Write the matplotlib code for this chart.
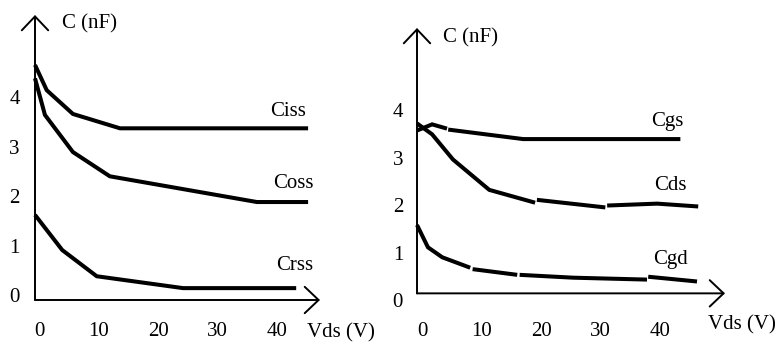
import matplotlib
matplotlib.use("Agg")
import matplotlib.pyplot as plt

plt.rcParams['font.family'] = ['Liberation Serif', 'DejaVu Serif']

# Left panel: input / output / reverse-transfer capacitance vs drain-source voltage
ciss_v = [[-0.67, 1.3, 5.7, 13.6, 45.2]]
ciss_c = [[4.65, 4.14, 3.66, 3.37, 3.37]]
coss_v = [[-0.67, 1.0, 5.7, 11.9, 36.6, 45.2]]
coss_c = [[4.38, 3.64, 2.89, 2.40, 1.88, 1.88]]
crss_v = [[-0.67, 3.9, 9.7, 24.2, 43.2]]
crss_c = [[1.62, 0.91, 0.38, 0.14, 0.14]]

# Right panel: inter-terminal capacitances vs drain-source voltage
# (each curve is drawn as a few hand-joined strokes)
cgs_v = [[-0.84, 1.7, 4.2], [4.4, 17.0, 43.4]]
cgs_c = [[3.57, 3.70, 3.61], [3.59, 3.39, 3.39]]
cds_v = [[-0.84, 1.7, 5.2, 11.3, 19.0], [19.3, 30.8], [31.1, 39.5, 46.4]]
cds_c = [[3.72, 3.49, 2.96, 2.32, 2.05], [2.11, 1.95], [1.99, 2.03, 1.97]]
cgd_v = [[-0.84, 1.0, 3.4, 8.1], [8.5, 16.0], [16.4, 25.4, 37.8], [38.0, 46.2]]
cgd_c = [[1.58, 1.11, 0.90, 0.68], [0.65, 0.53], [0.53, 0.47, 0.43], [0.49, 0.39]]

x_ticks = [0, 10, 20, 30, 40]
x_tick_labels = ['0', '10', '20', '30', '40']
y_ticks = [0, 1, 2, 3, 4]
y_tick_labels = ['0', '1', '2', '3', '4']

left_series = [(ciss_v, ciss_c, 'Ciss', 41.8, 3.70),
               (coss_v, coss_c, 'Coss', 42.7, 2.26),
               (crss_v, crss_c, 'Crss', 43.0, 0.59)]
right_series = [(cgs_v, cgs_c, 'Cgs', 41.2, 3.76),
                (cds_v, cds_c, 'Cds', 41.8, 2.42),
                (cgd_v, cgd_c, 'Cgd', 41.7, 0.86)]

W, H = 777, 345
fig = plt.figure(figsize=(W / 100, H / 100), dpi=100)

FS = 15


def panel(px_box, xlim, ylim, series, ylab_pos, xlab_pos, xlab_ha, ypad, xpad):
    l, r, b, t = px_box
    ax = fig.add_axes([l / W, 1 - b / H, (r - l) / W, (b - t) / H])
    ax.set_xlim(*xlim)
    ax.set_ylim(*ylim)
    for s in ax.spines.values():
        s.set_visible(False)
    ax.set_facecolor('none')
    # axes drawn as open-headed arrows
    arrow = dict(arrowstyle='->,head_length=10,head_width=9.5', mutation_scale=1,
                 lw=1.4, color='black', shrinkA=0, shrinkB=0)
    ax.annotate('', xy=(xlim[1], ylim[0]), xytext=(xlim[0], ylim[0]),
                arrowprops=arrow, annotation_clip=False)
    ax.annotate('', xy=(xlim[0], ylim[1]), xytext=(xlim[0], ylim[0]),
                arrowprops=arrow, annotation_clip=False)
    for v_pieces, c_pieces, name, tx, ty in series:
        for v, c in zip(v_pieces, c_pieces):
            ax.plot(v, c, color='black', lw=2.9, solid_capstyle='butt',
                    solid_joinstyle='miter', clip_on=False)
        ax.text(tx, ty, name, fontsize=FS, ha='center', va='center')
    ax.set_xticks(x_ticks, x_tick_labels, fontsize=FS)
    ax.set_yticks(y_ticks, y_tick_labels, fontsize=FS)
    ax.tick_params(axis='x', length=0, pad=xpad)
    ax.tick_params(axis='y', length=0, pad=ypad)
    ax.text(ylab_pos[0], ylab_pos[1], 'C (nF)', fontsize=FS, ha='left', va='center')
    ax.text(xlab_pos[0], xlab_pos[1], 'Vds (V)', fontsize=FS, ha=xlab_ha, va='center')
    return ax


panel((35, 320, 300, 15), (-0.67, 47.2), (-0.1, 5.66), left_series,
      (3.9, 5.49), (45.0, -0.77), 'left', 11, 16)
panel((417, 725, 300, 28), (-0.84, 50.9), (0.14, 5.73), right_series,
      (3.5, 5.52), (59.4, -0.53), 'right', 10, 16)

fig.savefig('out.png', dpi=100)
